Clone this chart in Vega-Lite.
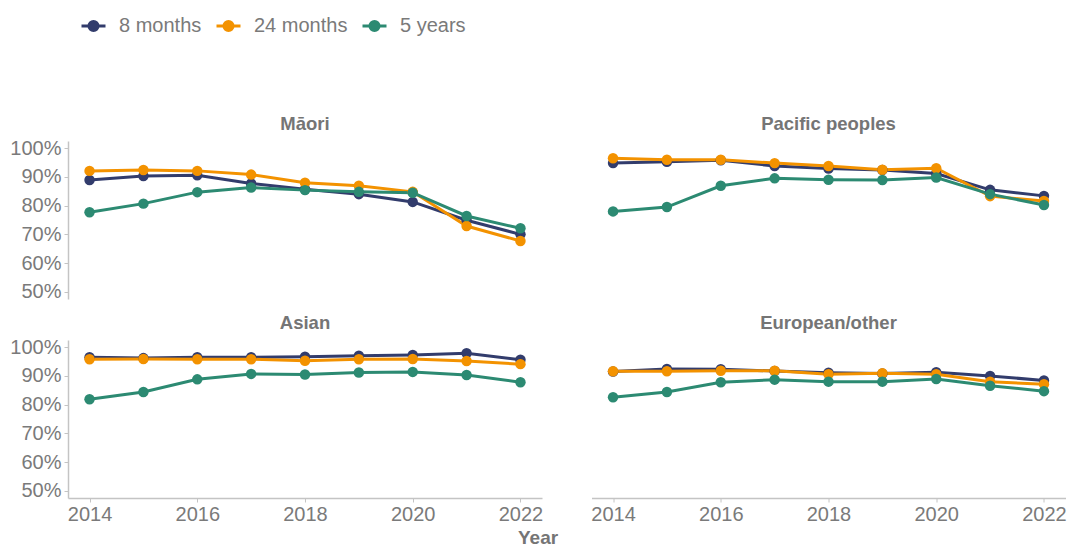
{
  "$schema": "https://vega.github.io/schema/vega-lite/v6.json",
  "padding": {"left": 9, "top": 0, "right": 4, "bottom": 3},
  "background": "white",
  "title": {"text": "Year", "orient": "bottom", "anchor": "middle", "fontSize": 19, "fontWeight": "bold", "color": "#757575", "font": "Liberation Sans", "offset": 5},
  "data": {"values": [
    {"group": "Māori", "series": "8 months", "year": 2014, "v": 88.9},
    {"group": "Māori", "series": "8 months", "year": 2015, "v": 90.3},
    {"group": "Māori", "series": "8 months", "year": 2016, "v": 90.6},
    {"group": "Māori", "series": "8 months", "year": 2017, "v": 87.7},
    {"group": "Māori", "series": "8 months", "year": 2018, "v": 85.7},
    {"group": "Māori", "series": "8 months", "year": 2019, "v": 84.0},
    {"group": "Māori", "series": "8 months", "year": 2020, "v": 81.3},
    {"group": "Māori", "series": "8 months", "year": 2021, "v": 74.9},
    {"group": "Māori", "series": "8 months", "year": 2022, "v": 70.0},
    {"group": "Māori", "series": "24 months", "year": 2014, "v": 92.1},
    {"group": "Māori", "series": "24 months", "year": 2015, "v": 92.4},
    {"group": "Māori", "series": "24 months", "year": 2016, "v": 92.1},
    {"group": "Māori", "series": "24 months", "year": 2017, "v": 90.8},
    {"group": "Māori", "series": "24 months", "year": 2018, "v": 88.0},
    {"group": "Māori", "series": "24 months", "year": 2019, "v": 86.9},
    {"group": "Māori", "series": "24 months", "year": 2020, "v": 84.8},
    {"group": "Māori", "series": "24 months", "year": 2021, "v": 72.9},
    {"group": "Māori", "series": "24 months", "year": 2022, "v": 67.7},
    {"group": "Māori", "series": "5 years", "year": 2014, "v": 77.7},
    {"group": "Māori", "series": "5 years", "year": 2015, "v": 80.7},
    {"group": "Māori", "series": "5 years", "year": 2016, "v": 84.7},
    {"group": "Māori", "series": "5 years", "year": 2017, "v": 86.3},
    {"group": "Māori", "series": "5 years", "year": 2018, "v": 85.4},
    {"group": "Māori", "series": "5 years", "year": 2019, "v": 84.8},
    {"group": "Māori", "series": "5 years", "year": 2020, "v": 84.5},
    {"group": "Māori", "series": "5 years", "year": 2021, "v": 76.4},
    {"group": "Māori", "series": "5 years", "year": 2022, "v": 72.1},
    {"group": "Pacific peoples", "series": "8 months", "year": 2014, "v": 94.8},
    {"group": "Pacific peoples", "series": "8 months", "year": 2015, "v": 95.3},
    {"group": "Pacific peoples", "series": "8 months", "year": 2016, "v": 95.8},
    {"group": "Pacific peoples", "series": "8 months", "year": 2017, "v": 93.8},
    {"group": "Pacific peoples", "series": "8 months", "year": 2018, "v": 92.9},
    {"group": "Pacific peoples", "series": "8 months", "year": 2019, "v": 92.4},
    {"group": "Pacific peoples", "series": "8 months", "year": 2020, "v": 91.2},
    {"group": "Pacific peoples", "series": "8 months", "year": 2021, "v": 85.5},
    {"group": "Pacific peoples", "series": "8 months", "year": 2022, "v": 83.4},
    {"group": "Pacific peoples", "series": "24 months", "year": 2014, "v": 96.5},
    {"group": "Pacific peoples", "series": "24 months", "year": 2015, "v": 96.0},
    {"group": "Pacific peoples", "series": "24 months", "year": 2016, "v": 96.0},
    {"group": "Pacific peoples", "series": "24 months", "year": 2017, "v": 94.8},
    {"group": "Pacific peoples", "series": "24 months", "year": 2018, "v": 93.8},
    {"group": "Pacific peoples", "series": "24 months", "year": 2019, "v": 92.5},
    {"group": "Pacific peoples", "series": "24 months", "year": 2020, "v": 93.0},
    {"group": "Pacific peoples", "series": "24 months", "year": 2021, "v": 83.3},
    {"group": "Pacific peoples", "series": "24 months", "year": 2022, "v": 81.6},
    {"group": "Pacific peoples", "series": "5 years", "year": 2014, "v": 78.0},
    {"group": "Pacific peoples", "series": "5 years", "year": 2015, "v": 79.5},
    {"group": "Pacific peoples", "series": "5 years", "year": 2016, "v": 86.9},
    {"group": "Pacific peoples", "series": "5 years", "year": 2017, "v": 89.5},
    {"group": "Pacific peoples", "series": "5 years", "year": 2018, "v": 89.0},
    {"group": "Pacific peoples", "series": "5 years", "year": 2019, "v": 88.9},
    {"group": "Pacific peoples", "series": "5 years", "year": 2020, "v": 89.8},
    {"group": "Pacific peoples", "series": "5 years", "year": 2021, "v": 84.0},
    {"group": "Pacific peoples", "series": "5 years", "year": 2022, "v": 80.2},
    {"group": "Asian", "series": "8 months", "year": 2014, "v": 96.5},
    {"group": "Asian", "series": "8 months", "year": 2015, "v": 96.2},
    {"group": "Asian", "series": "8 months", "year": 2016, "v": 96.5},
    {"group": "Asian", "series": "8 months", "year": 2017, "v": 96.5},
    {"group": "Asian", "series": "8 months", "year": 2018, "v": 96.7},
    {"group": "Asian", "series": "8 months", "year": 2019, "v": 97.0},
    {"group": "Asian", "series": "8 months", "year": 2020, "v": 97.3},
    {"group": "Asian", "series": "8 months", "year": 2021, "v": 97.9},
    {"group": "Asian", "series": "8 months", "year": 2022, "v": 95.6},
    {"group": "Asian", "series": "24 months", "year": 2014, "v": 95.8},
    {"group": "Asian", "series": "24 months", "year": 2015, "v": 95.9},
    {"group": "Asian", "series": "24 months", "year": 2016, "v": 95.8},
    {"group": "Asian", "series": "24 months", "year": 2017, "v": 95.8},
    {"group": "Asian", "series": "24 months", "year": 2018, "v": 95.3},
    {"group": "Asian", "series": "24 months", "year": 2019, "v": 95.8},
    {"group": "Asian", "series": "24 months", "year": 2020, "v": 95.9},
    {"group": "Asian", "series": "24 months", "year": 2021, "v": 95.2},
    {"group": "Asian", "series": "24 months", "year": 2022, "v": 94.1},
    {"group": "Asian", "series": "5 years", "year": 2014, "v": 81.9},
    {"group": "Asian", "series": "5 years", "year": 2015, "v": 84.4},
    {"group": "Asian", "series": "5 years", "year": 2016, "v": 88.8},
    {"group": "Asian", "series": "5 years", "year": 2017, "v": 90.7},
    {"group": "Asian", "series": "5 years", "year": 2018, "v": 90.5},
    {"group": "Asian", "series": "5 years", "year": 2019, "v": 91.2},
    {"group": "Asian", "series": "5 years", "year": 2020, "v": 91.4},
    {"group": "Asian", "series": "5 years", "year": 2021, "v": 90.3},
    {"group": "Asian", "series": "5 years", "year": 2022, "v": 87.8},
    {"group": "European/other", "series": "8 months", "year": 2014, "v": 91.5},
    {"group": "European/other", "series": "8 months", "year": 2015, "v": 92.4},
    {"group": "European/other", "series": "8 months", "year": 2016, "v": 92.3},
    {"group": "European/other", "series": "8 months", "year": 2017, "v": 91.7},
    {"group": "European/other", "series": "8 months", "year": 2018, "v": 91.1},
    {"group": "European/other", "series": "8 months", "year": 2019, "v": 90.8},
    {"group": "European/other", "series": "8 months", "year": 2020, "v": 91.3},
    {"group": "European/other", "series": "8 months", "year": 2021, "v": 90.0},
    {"group": "European/other", "series": "8 months", "year": 2022, "v": 88.4},
    {"group": "European/other", "series": "24 months", "year": 2014, "v": 91.6},
    {"group": "European/other", "series": "24 months", "year": 2015, "v": 91.6},
    {"group": "European/other", "series": "24 months", "year": 2016, "v": 91.8},
    {"group": "European/other", "series": "24 months", "year": 2017, "v": 91.8},
    {"group": "European/other", "series": "24 months", "year": 2018, "v": 90.6},
    {"group": "European/other", "series": "24 months", "year": 2019, "v": 90.9},
    {"group": "European/other", "series": "24 months", "year": 2020, "v": 90.6},
    {"group": "European/other", "series": "24 months", "year": 2021, "v": 88.0},
    {"group": "European/other", "series": "24 months", "year": 2022, "v": 87.1},
    {"group": "European/other", "series": "5 years", "year": 2014, "v": 82.6},
    {"group": "European/other", "series": "5 years", "year": 2015, "v": 84.4},
    {"group": "European/other", "series": "5 years", "year": 2016, "v": 87.8},
    {"group": "European/other", "series": "5 years", "year": 2017, "v": 88.7},
    {"group": "European/other", "series": "5 years", "year": 2018, "v": 88.0},
    {"group": "European/other", "series": "5 years", "year": 2019, "v": 88.0},
    {"group": "European/other", "series": "5 years", "year": 2020, "v": 88.9},
    {"group": "European/other", "series": "5 years", "year": 2021, "v": 86.6},
    {"group": "European/other", "series": "5 years", "year": 2022, "v": 84.7}
  ]},
  "facet": {"field": "group", "type": "nominal", "title": null,
    "sort": ["Māori", "Pacific peoples", "Asian", "European/other"],
    "header": {"labelFontSize": 18.5, "labelFontWeight": "bold", "labelColor": "#757575", "labelFont": "Liberation Sans", "labelPadding": 8}},
  "columns": 2,
  "spacing": {"column": 49.5, "row": 14},
  "spec": {
    "width": 474,
    "height": 158,
    "encoding": {
      "x": {"field": "year", "type": "quantitative",
        "scale": {"domain": [2013.6, 2022.4], "nice": false, "zero": false},
        "axis": {"title": null, "values": [2014, 2016, 2018, 2020, 2022], "format": "d", "grid": false,
          "domainColor": "#c4c4c4", "domainWidth": 1.5, "tickColor": "#c4c4c4", "tickSize": 4, "labelFontSize": 20, "labelColor": "#7a7a7a", "labelFont": "Liberation Sans", "labelPadding": 2, "labelFlush": false}},
      "y": {"field": "v", "type": "quantitative",
        "scale": {"domain": [47.5, 102.5], "nice": false, "zero": false},
        "axis": {"title": null, "values": [50, 60, 70, 80, 90, 100], "labelExpr": "datum.value + '%'", "grid": false,
          "domainColor": "#c4c4c4", "domainWidth": 1.5, "tickColor": "#c4c4c4", "tickSize": 4, "labelFontSize": 20, "labelColor": "#7a7a7a", "labelFont": "Liberation Sans", "labelPadding": 3}},
      "color": {"field": "series", "type": "nominal",
        "scale": {"domain": ["8 months", "24 months", "5 years"], "range": ["#323c6c", "#f39200", "#2c8a72"]},
        "legend": {"title": null, "orient": "top", "direction": "horizontal", "padding": 12,
          "symbolType": "M-1,0L1,0M-0.38,0A0.38,0.38,0,1,1,0.38,0A0.38,0.38,0,1,1,-0.38,0",
          "symbolSize": 576, "symbolStrokeWidth": 3, "labelFontSize": 20, "labelColor": "#7a7a7a", "labelFont": "Liberation Sans", "columnPadding": 8, "labelOffset": 12, "offset": 65}}
    },
    "layer": [
      {"mark": {"type": "line", "strokeWidth": 3}},
      {"mark": {"type": "point", "filled": true, "size": 110, "opacity": 1}}
    ]
  },
  "config": {"view": {"stroke": null}, "font": "Liberation Sans"}
}
